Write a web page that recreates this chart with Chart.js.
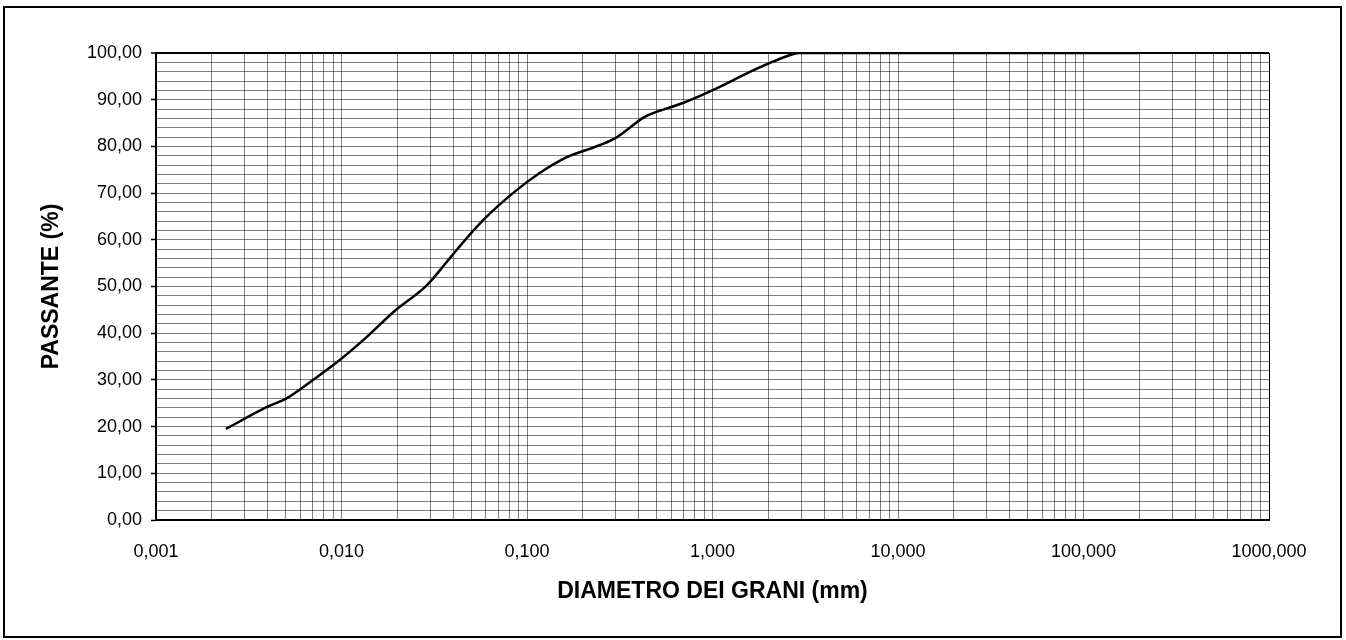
<!DOCTYPE html>
<html>
<head>
<meta charset="utf-8">
<title>Curva granulometrica</title>
<script src="https://cdn.jsdelivr.net/npm/chart.js@4"></script>
<style>
  html, body { margin: 0; padding: 0; background: #fff; }
  #wrap { width: 1346px; height: 640px; }
</style>
</head>
<body>
<div id="wrap"><canvas id="chart" width="1346" height="640"></canvas></div>
<script>
// diametro dei grani (mm) e passante (%)
const diametri = [0.00238, 0.00397, 0.00508, 0.00702, 0.00982, 0.0137, 0.019, 0.0289, 0.037, 0.0425,
  0.058, 0.084, 0.117, 0.164, 0.248, 0.306, 0.422, 0.45, 0.692, 1.06, 1.58, 2.23, 2.96, 200];
const passante = [19.5, 24.2, 26.1, 30.0, 34.3, 39.2, 44.5, 50.3, 55.3, 58.2,
  64.2, 70.0, 74.3, 77.7, 80.3, 82.0, 86.1, 86.7, 89.3, 92.5, 95.9, 98.5, 100, 100];

const xDecadi = [0.001, 0.01, 0.1, 1, 10, 100, 1000];
const xTickLabels = ['0,001', '0,010', '0,100', '1,000', '10,000', '100,000', '1000,000'];
const yTickStep = 10;
const yGridStep = 2;

const xGridValues = [];
xDecadi.forEach((d, i) => {
  if (i === xDecadi.length - 1) { xGridValues.push(d); return; }
  for (let k = 1; k <= 9; k++) xGridValues.push(d * k);
});

const fmtY = v => v.toFixed(2).replace('.', ',');
const isMajorY = v => Math.abs(v % yTickStep) < 1e-6;
const gridGrey = 'rgba(0,0,0,0.5)';

const framePlugin = {
  id: 'frame',
  beforeDraw(chart) {
    const ctx = chart.ctx;
    ctx.save();
    ctx.fillStyle = '#fff';
    ctx.fillRect(0, 0, chart.width, chart.height);
    ctx.strokeStyle = '#000';
    ctx.lineWidth = 2;
    ctx.strokeRect(4, 7, chart.width - 9, chart.height - 10);
    ctx.restore();
  }
};

new Chart(document.getElementById('chart'), {
  type: 'line',
  data: {
    datasets: [{
      data: diametri.map((d, i) => ({ x: d, y: passante[i] })),
      borderColor: '#000',
      borderWidth: 2.5,
      pointRadius: 0,
      cubicInterpolationMode: 'monotone',
      fill: false
    }]
  },
  options: {
    responsive: false,
    animation: false,
    layout: { padding: { left: 0, top: 53, right: 77, bottom: 0 } },
    plugins: {
      legend: { display: false },
      tooltip: { enabled: false }
    },
    scales: {
      x: {
        type: 'logarithmic',
        min: 0.001,
        max: 1000,
        afterBuildTicks: s => { s.ticks = xGridValues.map(v => ({ value: v })); },
        afterFit: s => { s.height = 120; },
        border: { color: '#000', width: 2 },
        grid: {
          color: c => c.tick && c.tick.value === 1000 ? '#000' : gridGrey,
          lineWidth: 1,
          borderDash: [1, 4],
          drawTicks: false
        },
        ticks: {
          autoSkip: false,
          maxRotation: 0,
          padding: 21,
          color: '#000',
          font: { family: 'Liberation Sans', size: 18 },
          callback: v => {
            const i = xDecadi.indexOf(v);
            return i >= 0 ? xTickLabels[i] : '';
          }
        },
        title: {
          display: true,
          text: 'DIAMETRO DEI GRANI (mm)',
          color: '#000',
          font: { family: 'Liberation Sans', size: 23, weight: 'bold' },
          padding: { top: 0, bottom: 35 }
        }
      },
      y: {
        min: 0,
        max: 100,
        afterFit: s => { s.width = 156; },
        border: { color: '#000', width: 2 },
        grid: {
          color: c => {
            if (!c.tick) return gridGrey;
            if (c.tick.value === 0) return 'rgba(0,0,0,0)';
            return c.tick.value === 100 ? '#000' : gridGrey;
          },
          lineWidth: c => c.tick && c.tick.value === 100 ? 2 : 1,
          borderDash: c => c.tick && c.tick.value === 100 ? [] : [3, 4],
          tickColor: c => c.tick && isMajorY(c.tick.value) ? '#000' : 'rgba(0,0,0,0)',
          tickBorderDash: [],
          tickLength: 5,
          tickWidth: 1.5
        },
        ticks: {
          stepSize: yGridStep,
          autoSkip: false,
          padding: 9,
          color: '#000',
          font: { family: 'Liberation Sans', size: 18 },
          callback: v => isMajorY(v) ? fmtY(v) : ''
        },
        title: {
          display: true,
          text: 'PASSANTE (%)',
          color: '#000',
          font: { family: 'Liberation Sans', size: 23, weight: 'bold' },
          padding: { top: 38, bottom: 0 }
        }
      }
    }
  },
  plugins: [framePlugin]
});
</script>
</body>
</html>
